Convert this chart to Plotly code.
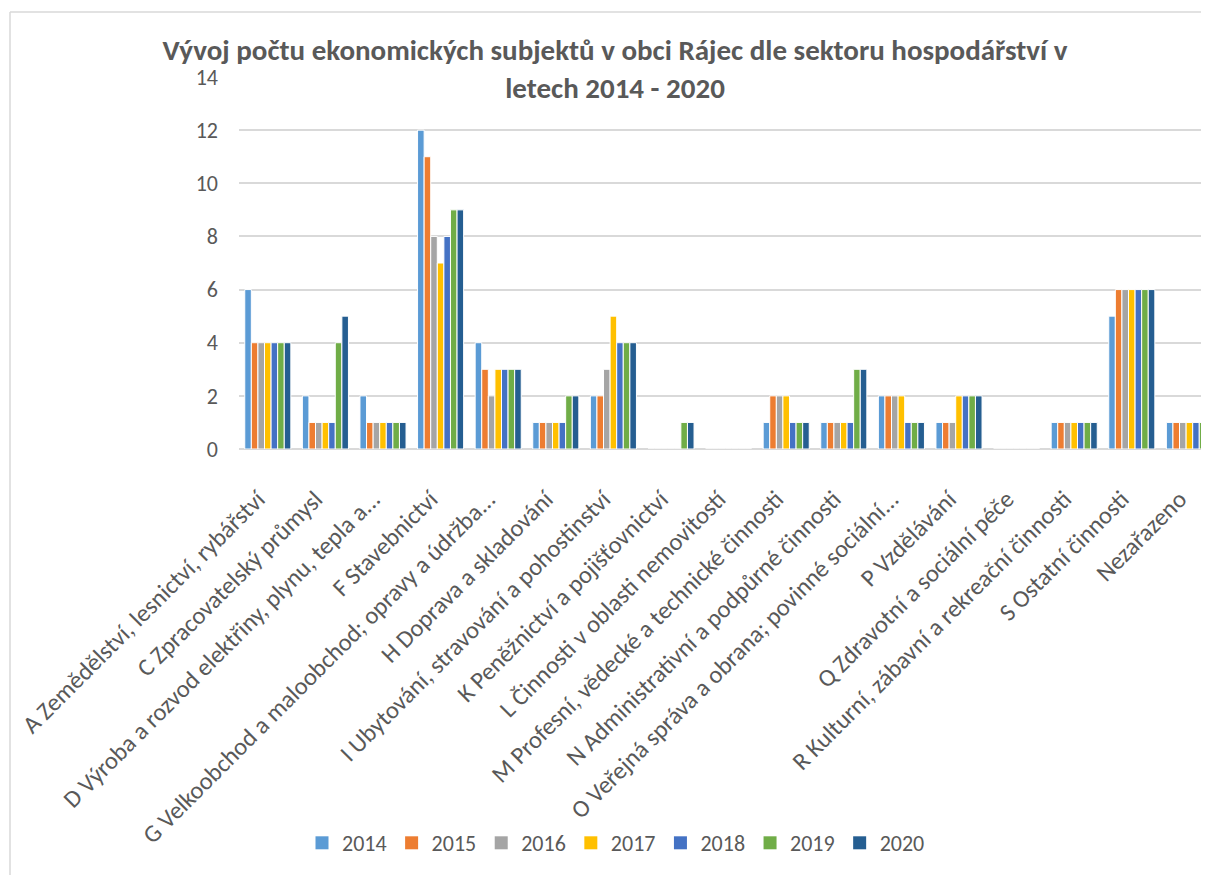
import plotly.graph_objects as go

categories = [
    "A Zemědělství, lesnictví, rybářství",
    "C Zpracovatelský průmysl",
    "D Výroba a rozvod elektřiny, plynu, tepla a...",
    "F Stavebnictví",
    "G Velkoobchod a maloobchod; opravy a údržba...",
    "H Doprava a skladování",
    "I Ubytování, stravování a pohostinství",
    "K Peněžnictví a pojišťovnictví",
    "L Činnosti v oblasti nemovitostí",
    "M Profesní, vědecké a technické činnosti",
    "N Administrativní a podpůrné činnosti",
    "O Veřejná správa a obrana; povinné sociální...",
    "P Vzdělávání",
    "Q Zdravotní a sociální péče",
    "R Kulturní, zábavní a rekreační činnosti",
    "S Ostatní činnosti",
    "Nezařazeno",
]

years = ["2014", "2015", "2016", "2017", "2018", "2019", "2020"]

v2014 = [6, 2, 2, 12, 4, 1, 2, 0, 0, 1, 1, 2, 1, 0, 1, 5, 1]
v2015 = [4, 1, 1, 11, 3, 1, 2, 0, 0, 2, 1, 2, 1, 0, 1, 6, 1]
v2016 = [4, 1, 1, 8, 2, 1, 3, 0, 0, 2, 1, 2, 1, 0, 1, 6, 1]
v2017 = [4, 1, 1, 7, 3, 1, 5, 0, 0, 2, 1, 2, 2, 0, 1, 6, 1]
v2018 = [4, 1, 1, 8, 3, 1, 4, 0, 0, 1, 1, 1, 2, 0, 1, 6, 1]
v2019 = [4, 4, 1, 9, 3, 2, 4, 1, 0, 1, 3, 1, 2, 0, 1, 6, 1]
v2020 = [4, 5, 1, 9, 3, 2, 4, 1, 0, 1, 3, 1, 2, 0, 1, 6, 4]

series = [v2014, v2015, v2016, v2017, v2018, v2019, v2020]
colors = ["#5B9BD5", "#ED7D31", "#A5A5A5", "#FFC000", "#4472C4", "#70AD47", "#255E91"]

title_text = ("Vývoj počtu ekonomických subjektů v obci Rájec dle sektoru hospodářství v"
              "<br>letech 2014 - 2020")

FONT = "Carlito, Calibri, Lato, sans-serif"
TXT = "#595959"
GRID = "#D9D9D9"

# page body has an 8px margin; work in figure coordinates
OFF = 8
W, H = 1209 - OFF, 875 - OFF
L, R, T, B = 239 - OFF, 0, 77 - OFF, 875 - 449
pw, ph = W - L - R, H - T - B


def px(x):
    return (x - OFF - L) / pw


def py(y):
    return (H - B - (y - OFF)) / ph


fig = go.Figure()
for name, vals, col in zip(years, series, colors):
    fig.add_trace(go.Bar(
        name=name, x=categories, y=vals,
        marker=dict(color=col, line=dict(color="white", width=1)),
        showlegend=False, legendgroup=name,
    ))
# legend entries (square swatches)
for name, col in zip(years, colors):
    fig.add_trace(go.Scatter(
        name=name, x=[None], y=[None], mode="markers",
        marker=dict(symbol="square", size=13, color=col),
        showlegend=True, legendgroup=name, hoverinfo="skip",
    ))

slot = 57.6
n_vis = pw / slot

fig.update_layout(
    width=W, height=H,
    margin=dict(l=L, r=R, t=T, b=B, autoexpand=False),
    paper_bgcolor="white", plot_bgcolor="white",
    barmode="group", bargap=0.2, bargroupgap=0,
    font=dict(family=FONT, color=TXT, size=22),
    title=dict(
        text=title_text,
        font=dict(family=FONT, size=29, color=TXT, weight="bold"),
        x=(615 - OFF) / W, xref="container", xanchor="center",
        y=1 - 52 / H, yref="container", yanchor="top",
    ),
    xaxis=dict(
        type="category",
        range=[-0.5, -0.5 + n_vis],
        tickangle=-45,
        tickfont=dict(size=24.5, color=TXT),
        showgrid=False, showline=False, zeroline=False,
        ticks="", automargin=False,
        ticklabelstandoff=30, ticklabelshift=-10,
    ),
    yaxis=dict(
        range=[0, 14], dtick=2, tick0=0,
        showgrid=True, gridcolor=GRID, gridwidth=1.5,
        zeroline=True, zerolinecolor=GRID, zerolinewidth=1.5,
        showline=False, ticks="",
        tickfont=dict(size=22, color=TXT),
        ticklabelstandoff=20,
        automargin=False,
    ),
    legend=dict(
        orientation="h",
        x=px(616), xanchor="center",
        y=py(843), yanchor="middle",
        font=dict(size=22, color=TXT),
        itemwidth=30,
        traceorder="normal",
    ),
    shapes=[
        dict(type="line", xref="paper", yref="paper",
             x0=px(10), x1=px(1230), y0=py(12), y1=py(12),
             line=dict(color=GRID, width=1.5)),
        dict(type="line", xref="paper", yref="paper",
             x0=px(10), x1=px(10), y0=py(12), y1=py(890),
             line=dict(color=GRID, width=1.5)),
    ],
)

fig.write_html("out.html")
